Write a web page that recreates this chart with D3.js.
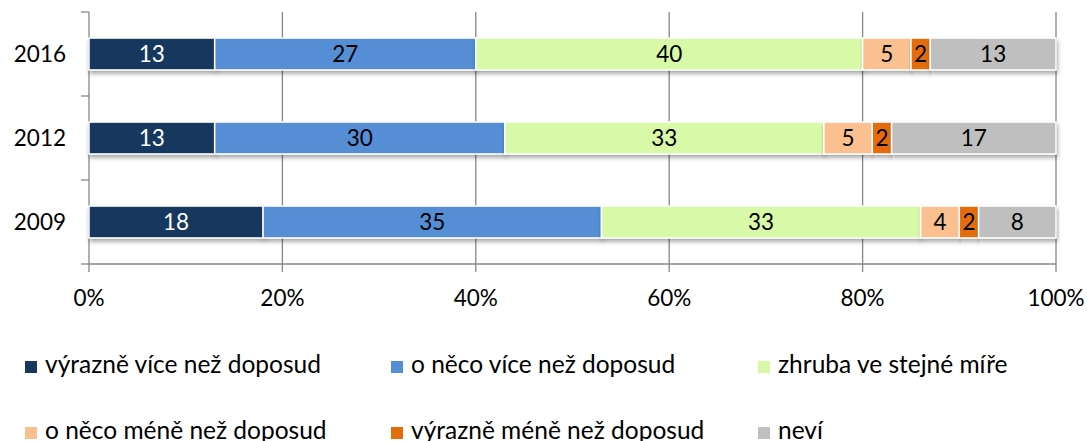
<!DOCTYPE html>
<html>
<head>
<meta charset="utf-8">
<script src="https://cdn.jsdelivr.net/npm/d3@7"></script>
<style>
body { margin: 0; background: #fff; }
text { font-family: Lato, "Open Sans", sans-serif; fill: #000; }
</style>
</head>
<body>
<script>
var width = 1087,
    height = 441;

// data
var years = ["2016", "2012", "2009"];
var series = ["výrazně více než doposud", "o něco více než doposud", "zhruba ve stejné míře",
              "o něco méně než doposud", "výrazně méně než doposud", "neví"];
var v2016 = [13, 27, 40, 5, 2, 13];
var v2012 = [13, 30, 33, 5, 2, 17];
var v2009 = [18, 35, 33, 4, 2, 8];
var ticks = [0, 20, 40, 60, 80, 100];
var colors = ["#17375e", "#558ed5", "#d7f9a8", "#fac090", "#e46c0a", "#bfbfbf"];

var values = [v2016, v2012, v2009];

var svg = d3.select("body").append("svg")
    .attr("width", width)
    .attr("height", height);

var defs = svg.append("defs");
var f = defs.append("filter").attr("id", "shadow")
    .attr("x", "-5%").attr("y", "-20%").attr("width", "110%").attr("height", "160%");
f.append("feDropShadow").attr("dx", 1).attr("dy", 3).attr("stdDeviation", 2)
    .attr("flood-color", "#000").attr("flood-opacity", 0.35);

var x = d3.scaleLinear().domain([0, 100]).range([89, 1056]);
var y = d3.scaleBand().domain(years).range([12, 264]).paddingInner(0.62).paddingOuter(0.31);

// gridlines
svg.append("g").selectAll("line")
    .data(ticks.slice(1))
    .enter().append("line")
    .attr("x1", d => x(d)).attr("x2", d => x(d))
    .attr("y1", 12).attr("y2", 264)
    .attr("stroke", "#878787").attr("stroke-width", 1.3);

// y axis
svg.append("line").attr("x1", 89).attr("x2", 89).attr("y1", 12).attr("y2", 264)
    .attr("stroke", "#878787").attr("stroke-width", 1.3);
var bounds = [12].concat(years.map(d => y(d) + y.bandwidth() + y.step() * y.paddingInner() / 2));
bounds[3] = 264;
svg.append("g").selectAll("line").data(bounds).enter().append("line")
    .attr("x1", 81).attr("x2", 89).attr("y1", d => d).attr("y2", d => d)
    .attr("stroke", "#878787").attr("stroke-width", 1.3);

// x axis
svg.append("line").attr("x1", 89).attr("x2", 1056).attr("y1", 264).attr("y2", 264)
    .attr("stroke", "#878787").attr("stroke-width", 1.3);
svg.append("g").selectAll("line").data(ticks).enter().append("line")
    .attr("x1", d => x(d)).attr("x2", d => x(d)).attr("y1", 264).attr("y2", 272)
    .attr("stroke", "#878787").attr("stroke-width", 1.3);
svg.append("g").selectAll("text").data(ticks).enter().append("text")
    .attr("x", d => x(d)).attr("y", 306)
    .attr("text-anchor", "middle")
    .style("font-size", "22.5px")
    .text(d => d + "%");

// year labels
svg.append("g").selectAll("text").data(years).enter().append("text")
    .attr("x", 66).attr("y", d => y(d) + y.bandwidth() / 2 + 8)
    .attr("text-anchor", "end")
    .style("font-size", "22.5px")
    .text(d => d);

// bars
years.forEach(function (yr, i) {
    var stack = [], acc = 0;
    values[i].forEach(function (v, j) {
        stack.push({ x0: acc, x1: acc + v, v: v, j: j });
        acc += v;
    });
    var g = svg.append("g");
    g.selectAll("rect").data(stack).enter().append("rect")
        .attr("x", d => x(d.x0)).attr("width", d => x(d.x1) - x(d.x0))
        .attr("y", y(yr)).attr("height", y.bandwidth())
        .attr("fill", d => colors[d.j])
        .attr("stroke", "#fff").attr("stroke-width", 1.5)
        .attr("filter", "url(#shadow)");
    g.selectAll("text").data(stack).enter().append("text")
        .attr("x", d => (x(d.x0) + x(d.x1)) / 2)
        .attr("y", y(yr) + y.bandwidth() / 2 + 8)
        .attr("text-anchor", "middle")
        .style("font-size", "22.5px")
        .style("fill", d => d.j == 0 ? "#fff" : "#000")
        .text(d => d.v);
});

// legend
var legX = [25, 391, 758];
var leg = svg.append("g").selectAll("g").data(series).enter().append("g")
    .attr("transform", (d, i) => "translate(" + legX[i % 3] + "," + (i < 3 ? 373 : 439) + ")");
leg.append("rect").attr("x", 0).attr("y", -12).attr("width", 12).attr("height", 12)
    .attr("fill", (d, i) => colors[i]);
leg.append("text").attr("x", 20).attr("y", 0)
    .style("font-size", "24.5px")
    .text(d => d);
</script>
</body>
</html>
